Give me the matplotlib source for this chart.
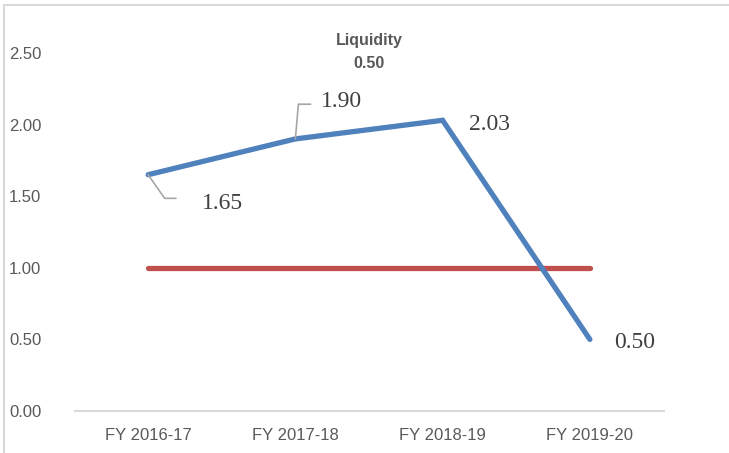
import matplotlib
matplotlib.use('Agg')
import matplotlib.pyplot as plt
from matplotlib.lines import Line2D

years = ['FY 2016-17', 'FY 2017-18', 'FY 2018-19', 'FY 2019-20']
liquidity = [1.65, 1.90, 2.03, 0.50]
benchmark = [1.00, 1.00, 1.00, 1.00]
yticks = [0.0, 0.5, 1.0, 1.5, 2.0, 2.5]

grey = '#595959'
fig = plt.figure(figsize=(7.29, 4.53), dpi=100)
ax = fig.add_axes([74.5 / 729, 1 - 411 / 453, 589 / 729, 358 / 453])

x = range(len(years))
ax.plot(x, benchmark, color='#C0504D', lw=3.8, solid_capstyle='round', zorder=2)
ax.plot(x, liquidity, color='#4F81BD', lw=3.8, solid_capstyle='round',
        solid_joinstyle='miter', zorder=3)

ax.set_xlim(-0.5, 3.5)
ax.set_ylim(0, 2.5)
ax.set_xticks(list(x))
ax.set_xticklabels(years)
ax.set_yticks(yticks)
ax.set_yticklabels([f'{v:.2f}' for v in yticks])
ax.tick_params(axis='both', length=0, colors=grey, labelsize=12)
ax.tick_params(axis='y', pad=24)
ax.tick_params(axis='x', pad=12)
for lab in ax.get_xticklabels() + ax.get_yticklabels():
    lab.set_fontfamily('Liberation Sans')

for s in ['top', 'right', 'left']:
    ax.spines[s].set_visible(False)
ax.spines['bottom'].set_color('#D9D9D9')
ax.spines['bottom'].set_linewidth(1.5)
ax.patch.set_alpha(0)

# data labels (offsets in points)
offsets = [(53.5, -21), (33, 27), (34, -3), (32, -2)]
for i, (v, off) in enumerate(zip(liquidity, offsets)):
    ax.annotate(f'{v:.2f}', (i, v), xytext=off, textcoords='offset points',
                ha='center', va='center', fontsize=17, color='#404040',
                family='Liberation Serif', zorder=4)

# leader lines
lc = '#A6A6A6'
ax.annotate('', (0, liquidity[0]), xytext=(20, -17), textcoords='offset points',
            arrowprops=dict(arrowstyle='-', color=lc, lw=1.2,
                            connectionstyle='angle,angleA=0,angleB=-55,rad=0',
                            shrinkA=0, shrinkB=0))
ax.annotate('', (1, liquidity[1]), xytext=(11, 25), textcoords='offset points',
            arrowprops=dict(arrowstyle='-', color=lc, lw=1.2,
                            connectionstyle='angle,angleA=0,angleB=85,rad=0',
                            shrinkA=0, shrinkB=0))

fig.text(369 / 729, 1 - 40 / 453, 'Liquidity', ha='center', va='center',
         fontsize=11.5, fontweight='bold', color=grey, family='Liberation Sans')
fig.text(369 / 729, 1 - 63 / 453, '0.50', ha='center', va='center',
         fontsize=11.5, fontweight='bold', color=grey, family='Liberation Sans')

# chart border (top and left visible)
fig.add_artist(Line2D([4 / 729, 4 / 729, 1], [0, 1 - 5 / 453, 1 - 5 / 453],
                      transform=fig.transFigure, color='#D9D9D9', lw=1.5))

fig.savefig('out.png', dpi=100)
